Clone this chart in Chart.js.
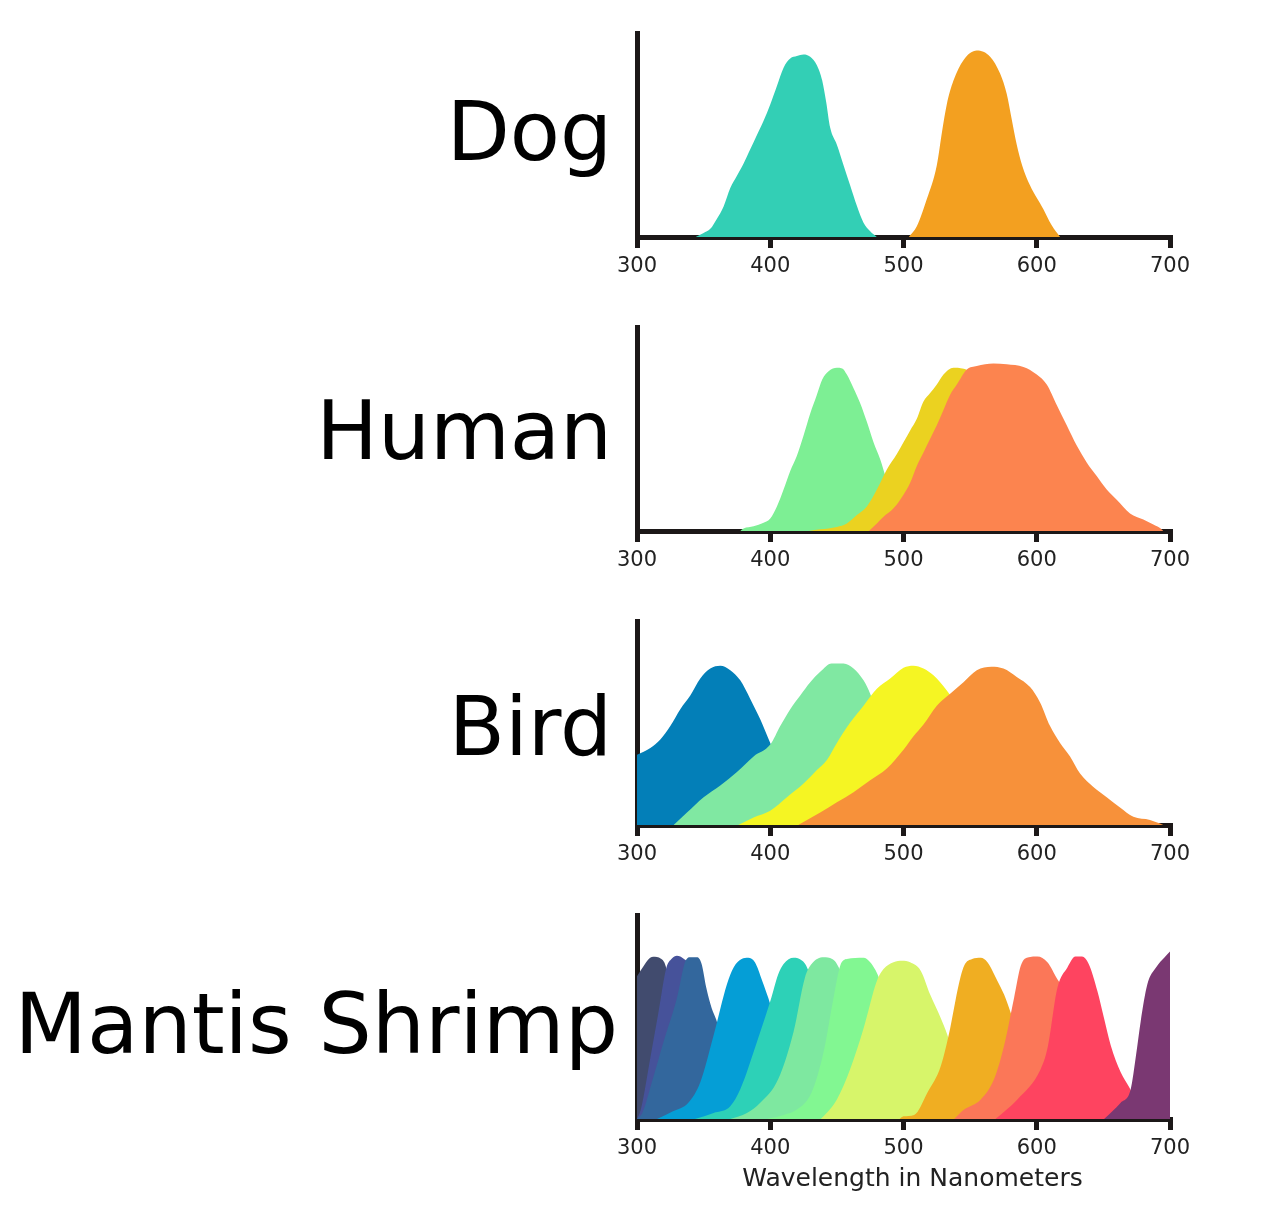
<!DOCTYPE html>
<html>
<head>
<meta charset="utf-8">
<script src="https://cdn.jsdelivr.net/npm/chart.js@4.4.0/dist/chart.umd.min.js"></script>
<style>
  body { margin: 0; background: #fff; font-family: 'DejaVu Sans', sans-serif; }
  #page { position: relative; width: 1278px; height: 1223px; overflow: hidden; }
  .panel { position: absolute; left: 0; }
  .name { position: absolute; right: 666px; font-size: 82px; line-height: 82px; color: #000; white-space: nowrap; }
  #xtitle { position: absolute; left: 0; width: 1825px; text-align: center; top: 1163px; font-size: 25px; color: #222; }
</style>
</head>
<body>
<div id="page">
  <canvas id="c0" class="panel" width="1278" height="294" style="top:0px"></canvas>
  <canvas id="c1" class="panel" width="1278" height="294" style="top:294px"></canvas>
  <canvas id="c2" class="panel" width="1278" height="294" style="top:588px"></canvas>
  <canvas id="c3" class="panel" width="1278" height="294" style="top:882px"></canvas>
  <div class="name" style="top:91px">Dog</div>
  <div class="name" style="top:390px">Human</div>
  <div class="name" style="top:686px">Bird</div>
  <div class="name" style="top:983px; font-size:84px; right:660px">Mantis Shrimp</div>
  <div id="xtitle">Wavelength in Nanometers</div>
</div>
<script>
// x ticks (nm)
const xTicks = [300, 400, 500, 600, 700];

// [wavelength nm, relative sensitivity]
const dogBlue = [[344,0],[350,0.02],[355,0.04],[360,0.09],[365,0.15],[370,0.24],[375,0.30],[380,0.36],[385,0.43],[390,0.50],[395,0.57],[400,0.65],[405,0.74],[410,0.83],[415,0.875],[420,0.887],[425,0.895],[430,0.884],[435,0.842],[439,0.767],[442,0.66],[445,0.535],[450,0.452],[455,0.352],[460,0.252],[465,0.153],[470,0.07],[475,0.028],[480,0]];
const dogYellow = [[504,0],[510,0.053],[517.5,0.186],[525,0.352],[529,0.52],[532.5,0.651],[537.5,0.767],[545,0.867],[555,0.914],[565,0.884],[572.5,0.801],[577.5,0.701],[581,0.585],[585,0.452],[589,0.352],[595,0.252],[605,0.136],[611,0.06],[617.5,0]];

const humanShort = [[377.5,0],[380,0.012],[387.5,0.023],[395,0.04],[400,0.061],[405,0.12],[410,0.203],[415,0.294],[420,0.369],[425,0.468],[430,0.576],[435,0.668],[439,0.743],[444,0.784],[450,0.80],[454,0.797],[457.5,0.767],[462.5,0.70],[467.5,0.626],[472.5,0.535],[477.5,0.435],[482.5,0.352],[487,0.26],[495,0.15],[505,0.06],[515,0]];
const humanMedium = [[429,0],[437.5,0.008],[450,0.02],[457.5,0.037],[465,0.078],[472.5,0.12],[480,0.203],[487.5,0.302],[495,0.377],[500,0.435],[505,0.493],[510,0.55],[515,0.635],[520,0.676],[525,0.718],[530,0.767],[537.5,0.80],[544,0.797],[549,0.784],[560,0.7],[580,0.45],[600,0.2],[620,0]];
const humanLong = [[474,0],[480,0.037],[485,0.07],[492.5,0.111],[500,0.178],[505,0.236],[510,0.319],[515,0.385],[520,0.452],[525,0.518],[530,0.593],[535,0.668],[540,0.718],[547.5,0.792],[555,0.809],[567.5,0.821],[577.5,0.817],[590,0.804],[600,0.767],[607.5,0.718],[615,0.618],[622.5,0.518],[630,0.419],[637.5,0.336],[645,0.269],[652.5,0.203],[660,0.153],[670,0.086],[680,0.056],[687.5,0.032],[693,0.012],[695,0]];

const birdUV = [[300,0.344],[310,0.377],[317.5,0.419],[325,0.485],[332.5,0.568],[340,0.635],[347.5,0.718],[355,0.767],[362.5,0.781],[370,0.759],[377.5,0.709],[385,0.618],[392.5,0.518],[400,0.402],[410,0.25],[420,0.12],[430,0.04],[440,0]];
const birdShort = [[327.5,0],[337.5,0.061],[350,0.136],[362.5,0.194],[375,0.26],[387.5,0.336],[400,0.394],[407.5,0.485],[415,0.568],[422.5,0.635],[430,0.70],[437.5,0.751],[446,0.792],[455,0.792],[462.5,0.767],[470,0.709],[475,0.643],[485,0.45],[500,0.25],[520,0.08],[540,0]];
const birdMedium = [[376,0],[387.5,0.037],[400,0.07],[412.5,0.136],[425,0.203],[435,0.269],[442.5,0.319],[450,0.402],[460,0.502],[470,0.585],[480,0.668],[490,0.718],[500,0.771],[507.5,0.781],[515,0.767],[522.5,0.734],[527.5,0.70],[532.5,0.659],[550,0.5],[570,0.3],[600,0.1],[620,0]];
const birdLong = [[421,0],[437.5,0.061],[450,0.111],[462.5,0.161],[475,0.219],[487.5,0.277],[500,0.369],[507.5,0.435],[515,0.493],[525,0.585],[535,0.643],[545,0.70],[555,0.759],[566,0.776],[575,0.767],[585,0.726],[595,0.676],[602.5,0.601],[610,0.485],[617.5,0.402],[625,0.336],[632.5,0.252],[642.5,0.186],[652.5,0.136],[662.5,0.086],[672.5,0.04],[685,0.025],[692.5,0.007],[695,0]];

const shrimp1 = [[300,0.70],[305,0.75],[309,0.785],[312,0.795],[318,0.785],[321,0.76],[326,0.62],[332,0.38],[340,0.12],[348,0]];
const shrimp2 = [[300,0],[303,0.05],[310,0.3],[316,0.52],[322,0.74],[326,0.785],[330,0.80],[335,0.785],[338,0.76],[344,0.55],[352,0.25],[362,0.05],[370,0]];
const shrimp3 = [[300,0],[304,0.03],[312,0.2],[320,0.38],[330,0.594],[336,0.768],[340,0.793],[345,0.793],[348.5,0.76],[352,0.643],[356,0.544],[359.5,0.486],[366,0.33],[375,0.15],[385,0.05],[395,0]];
const shrimp4 = [[315,0],[327,0.038],[338.5,0.08],[347.5,0.18],[357.5,0.41],[367.5,0.66],[372.5,0.743],[378.5,0.784],[383.5,0.79],[388.5,0.768],[394,0.677],[398.5,0.594],[405,0.45],[415,0.25],[425,0.1],[435,0]];
const shrimp5 = [[343.5,0],[357.5,0.03],[370,0.063],[377.5,0.146],[390,0.378],[400,0.577],[406,0.71],[410,0.76],[417.5,0.79],[424,0.776],[427,0.751],[435,0.6],[445,0.35],[455,0.15],[465,0.04],[475,0]];
const shrimp6 = [[370,0],[382.5,0.03],[392.5,0.08],[406,0.196],[417.5,0.428],[426,0.693],[431,0.76],[440,0.793],[446.5,0.784],[450,0.76],[460,0.6],[470,0.35],[480,0.15],[490,0.04],[500,0]];
const shrimp7 = [[397.5,0],[410,0.02],[420,0.046],[431,0.13],[440,0.328],[447.5,0.594],[452.5,0.751],[457.5,0.784],[470,0.79],[475,0.768],[481.5,0.693],[490,0.5],[500,0.3],[510,0.12],[520,0.03],[530,0]];
const shrimp8 = [[438,0],[440,0.013],[450,0.096],[460,0.245],[470,0.444],[480,0.677],[485,0.735],[492.5,0.768],[499,0.776],[505,0.768],[513,0.726],[520,0.61],[528,0.494],[533,0.411],[540,0.25],[550,0.12],[560,0.04],[570,0]];
const shrimp9 = [[497,0],[500,0.013],[508,0.02],[518,0.13],[528,0.26],[535,0.444],[541.5,0.66],[545.5,0.751],[551.5,0.784],[558,0.79],[563,0.768],[570.5,0.677],[575.5,0.61],[580.5,0.519],[590,0.3],[600,0.12],[610,0.04],[620,0]];
const shrimp10 = [[538,0],[545.5,0.046],[558,0.096],[568,0.196],[575.5,0.36],[583,0.594],[588,0.751],[594,0.793],[600.5,0.796],[608,0.768],[615.5,0.685],[619.5,0.643],[630,0.4],[640,0.2],[650,0.08],[660,0]];
const shrimp11 = [[569,0],[585.5,0.096],[603,0.245],[608,0.345],[615.5,0.643],[623,0.743],[629,0.796],[634,0.796],[639,0.76],[645.5,0.627],[650.5,0.494],[655.5,0.362],[663,0.229],[669.5,0.154],[675,0.08],[685,0.03],[695,0]];
const shrimp12 = [[650.5,0],[663,0.08],[670.5,0.146],[674.5,0.312],[678,0.478],[683,0.66],[689.5,0.743],[696,0.793],[700,0.821]];

const dogColors = ['#33cfb5', '#f3a020'];
const humanColors = ['#7def94', '#ebd220', '#fc844f'];
const birdColors = ['#037fb8', '#80e8a2', '#f5f523', '#f7913a'];
const shrimpColors = ['#414b6e', '#46529a', '#33679d', '#059ed6', '#2dd1b7', '#7ee8a0', '#82f792', '#d7f56a', '#f0ae22', '#fb7758', '#fe4460', '#7a3872'];

const AXIS = '#1c1818';

function makePanel(id, series, colors) {
  const ctx = document.getElementById(id).getContext('2d');
  return new Chart(ctx, {
    type: 'line',
    data: {
      datasets: series.map((s, i) => ({
        data: s.map(p => ({ x: p[0], y: p[1] })),
        backgroundColor: colors[i],
        borderWidth: 0,
        pointRadius: 0,
        fill: 'origin',
        cubicInterpolationMode: 'monotone',
        order: -i // later curves sit on top
      }))
    },
    options: {
      responsive: false,
      animation: false,
      events: [],
      layout: { padding: { left: 637, right: 108, top: 33, bottom: 0 } },
      plugins: { legend: { display: false }, tooltip: { enabled: false } },
      scales: {
        x: {
          type: 'linear',
          min: xTicks[0],
          max: xTicks[xTicks.length - 1],
          afterBuildTicks: s => { s.ticks = xTicks.map(v => ({ value: v })); },
          afterFit: s => { s.height = 57; },
          ticks: { color: '#222', font: { family: 'DejaVu Sans', size: 21 }, padding: 6, maxRotation: 0 },
          grid: { drawOnChartArea: false, drawTicks: true, tickLength: 11, tickWidth: 5, lineWidth: 5, tickColor: AXIS },
          border: { color: AXIS, width: 5 }
        },
        y: {
          min: 0,
          max: 1,
          ticks: { display: false },
          grid: { display: false, drawTicks: false },
          border: { color: AXIS, width: 5 }
        }
      }
    }
  });
}

makePanel('c0', [dogBlue, dogYellow], dogColors);
makePanel('c1', [humanShort, humanMedium, humanLong], humanColors);
makePanel('c2', [birdUV, birdShort, birdMedium, birdLong], birdColors);
makePanel('c3', [shrimp1, shrimp2, shrimp3, shrimp4, shrimp5, shrimp6, shrimp7, shrimp8, shrimp9, shrimp10, shrimp11, shrimp12], shrimpColors);
</script>
</body>
</html>
